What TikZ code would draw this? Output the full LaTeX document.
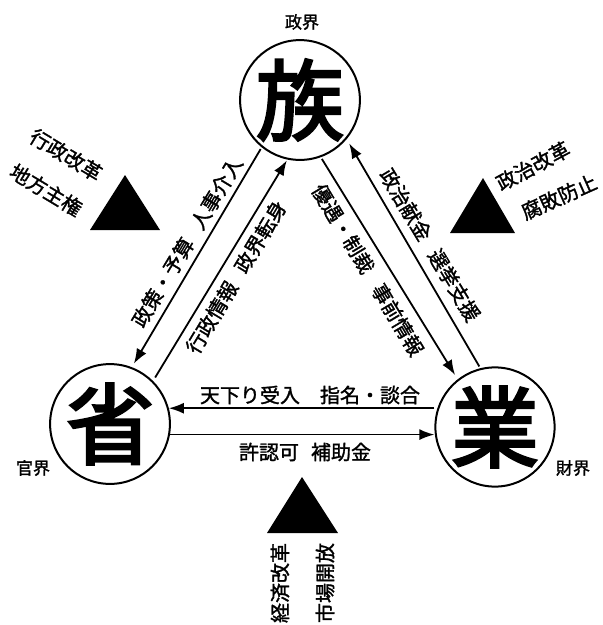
\documentclass[tikz,border=0pt]{standalone}
\usepackage{fontspec}
\setmainfont{Noto Sans CJK JP}[BoldFont={Noto Sans CJK JP},BoldFeatures={FakeBold=1.5}]
\newfontfamily\hubfont{Noto Sans CJK JP}[BoldFont={Noto Sans CJK JP},BoldFeatures={FakeBold=3}]
\usetikzlibrary{arrows.meta}
\begin{document}
\begin{tikzpicture}[x=1pt,y=-1pt,
  hub/.style={circle,draw,line width=2pt,minimum size=114pt,inner sep=0pt,font=\fontsize{88}{88}\hubfont\bfseries},
  flow/.style={line width=1.8pt,-{Latex[length=15pt,width=11pt]}},
  lbl/.style={font=\fontsize{20}{20}\selectfont\bfseries,inner sep=0pt},
  sect/.style={font=\fontsize{17}{17}\selectfont\bfseries,inner sep=0pt},
  tri/.style={fill=black}]
\useasboundingbox (0,0) rectangle (603,625);
% hubs
\node[hub] (top) at (300,100) {族};
\node[hub] (left) at (110,424) {省};
\node[hub] (right) at (495,427) {業};
% sector labels
\node[sect] (ts) at (302,22) {政界};
\node[sect] (ls) at (33,468) {官界};
\node[sect] (rs) at (573,468) {財界};
% connectors
\draw[flow,shorten <=2pt,shorten >=4pt] (top.231) -- (left.69);
\draw[flow,shorten <=4pt,shorten >=1pt] (left.45) -- (top.258);
\draw[flow,shorten <=2pt,shorten >=5pt] (right.104) -- (top.320);
\draw[flow,shorten <=2pt,shorten >=5pt] (top.290) -- (right.128);
\draw[flow] (left.15 -| right.west) -- (left.15);
\draw[flow] (left.-10) -- (left.-10 -| right.west);
% connector labels
\node[lbl,rotate=59] (lo) at (187,242) {政策・予算\hspace{0.7em}人事介入};
\node[lbl,rotate=59] (li) at (236,277) {行政情報\hspace{0.7em}政界転身};
\node[lbl,rotate=-59] (ro) at (430,245) {政治献金\hspace{0.7em}選挙支援};
\node[lbl,rotate=-59] (ri) at (368,270) {優遇・制裁\hspace{0.8em}事前情報};
\node[lbl] (hu) at (310,395) {天下り受入　指名・談合};
\node[lbl] (hl) at (305,452) {許認可\hspace{0.6em}補助金};
% reform triangles
\fill[tri] (125,175) -- (90,230) -- (160,230) -- cycle;
\fill[tri] (483,178) -- (450,233) -- (515,233) -- cycle;
\fill[tri] (302,477) -- (267,533) -- (338,533) -- cycle;
\node[lbl,rotate=-31] (t1) at (66,155) {行政改革};
\node[lbl,rotate=-31] (t2) at (46,190) {地方主権};
\node[lbl,rotate=28] (t3) at (533,166) {政治改革};
\node[lbl,rotate=24] (t4) at (559,197) {腐敗防止};
\node[lbl,rotate=90] (t5) at (280,583) {経済改革};
\node[lbl,rotate=90] (t6) at (325,583) {市場開放};
\end{tikzpicture}
\end{document}
